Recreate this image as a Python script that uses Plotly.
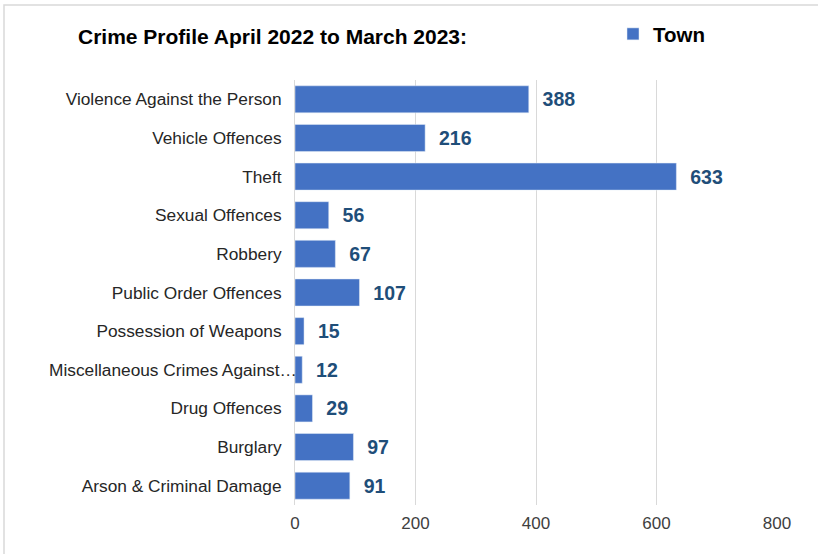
import plotly.graph_objects as go

categories = [
    "Violence Against the Person",
    "Vehicle Offences",
    "Theft",
    "Sexual Offences",
    "Robbery",
    "Public Order Offences",
    "Possession of Weapons",
    "Miscellaneous Crimes Against…",
    "Drug Offences",
    "Burglary",
    "Arson & Criminal Damage",
]
values = [388, 216, 633, 56, 67, 107, 15, 12, 29, 97, 91]
x_ticks = [0, 200, 400, 600, 800]
series_name = "Town"
title_text = "Crime Profile April 2022 to March 2023:"
overflow_label = "Miscellaneous Crimes Against…"

FONT = "Liberation Sans, Arial"

fig = go.Figure()
fig.add_trace(go.Bar(
    y=categories,
    x=values,
    orientation="h",
    name="<b>" + series_name + "</b>",
    marker=dict(color="#4472C4"),
    text=[f"  {v}" for v in values],
    textposition="outside",
    textfont=dict(family=FONT, size=19.5, color="#1F4E79"),
    texttemplate="<b>%{text}</b>",
    cliponaxis=False,
))

# the long truncated label overflows onto the axis in the reference
ticktext = ["" if c == overflow_label else c for c in categories]

fig.update_layout(
    width=818, height=554,
    margin=dict(l=295, r=41, t=80, b=49),
    paper_bgcolor="white",
    plot_bgcolor="white",
    bargap=0.3,
    font=dict(family=FONT, color="#404040", size=17),
    title=dict(
        text="<b>" + title_text + "</b>",
        x=78/818, xref="container", xanchor="left",
        y=1 - 37/554, yref="container", yanchor="middle",
        font=dict(family=FONT, size=21, color="black"),
    ),
    showlegend=True,
    legend=dict(
        x=(613-295)/482, y=(505.4-34)/425.4, xanchor="left", yanchor="middle",
        orientation="h",
        font=dict(family=FONT, size=20.5, color="black"),
        itemwidth=30,
    ),
    xaxis=dict(
        range=[0, 800],
        tickvals=x_ticks,
        ticktext=[str(t) for t in x_ticks],
        showgrid=True, gridcolor="#D9D9D9", gridwidth=1,
        zeroline=False,
        tickfont=dict(size=17, color="#404040"),
        ticks="", ticklabelstandoff=6,
    ),
    yaxis=dict(
        categoryorder="array",
        categoryarray=categories[::-1],
        tickvals=categories,
        ticktext=ticktext,
        autorange=True,
        showline=True, linecolor="#D9D9D9", linewidth=1,
        ticks="", ticklabelstandoff=9,
        tickfont=dict(size=17.3, color="#262626"),
    ),
    annotations=[dict(
        text=overflow_label,
        xref="paper", x=(299-295)/482, xanchor="right",
        yref="y", y=overflow_label, yanchor="middle",
        showarrow=False,
        font=dict(family=FONT, size=17.3, color="#262626"),
    )],
    shapes=[dict(
        type="rect", xref="paper", yref="paper",
        x0=(4-295)/482, x1=1.3,
        y0=-0.3, y1=(505.4-5)/425.4,
        line=dict(color="#D9D9D9", width=1.5),
        fillcolor="rgba(0,0,0,0)",
        layer="below",
    )],
)

fig.write_html(
    "out.html",
    config={"displayModeBar": False},
    post_script="document.body.style.margin='0';document.body.style.overflow='hidden';",
)
